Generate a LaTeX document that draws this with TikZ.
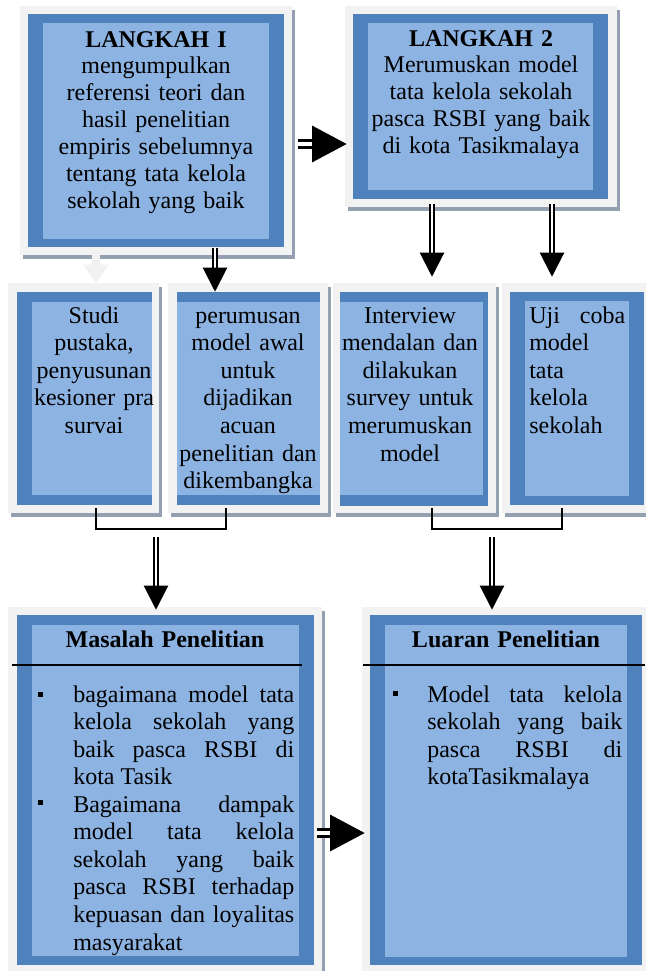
\documentclass[tikz,border=0pt]{standalone}
\usepackage{fontspec}
\setmainfont{Liberation Serif}
\usetikzlibrary{arrows.meta, calc, fit, shadows}
\definecolor{framegray}{RGB}{242,242,242}
\definecolor{shadowblue}{RGB}{148,160,178}
\definecolor{outerblue}{RGB}{79,129,189}
\definecolor{innerblue}{RGB}{141,179,226}

\tikzset{
  blokframe/.style={fill=framegray, inner sep=0pt,
    general shadow={fill=shadowblue, shadow xshift=2.25pt, shadow yshift=-3pt}},
  txt/.style={inner sep=0pt, text width=#1, align=center, anchor=base,
    font=\fontsize{18}{20.7}\selectfont},
  txttop/.style={txt=#1, font=\fontsize{18}{20.2}\selectfont},
  item/.style={txt=#1, align=justify, anchor=base west},
  bul/.style={fill=black, inner sep=0pt, minimum size=3.75pt},
  vdbl/.style={double, double distance=1.7pt, line width=1.6pt,
    -{Triangle[length=18pt, width=18pt]}},
  hdbl/.style={double, double distance=2.6pt, line width=2.4pt,
    -{Triangle[length=26pt, width=27pt]}},
  grayarr/.style={draw=framegray, line width=5.5pt,
    -{Triangle[length=13.5pt, width=19pt]}},
  brk/.style={line width=1.1pt},
  rulel/.style={line width=1.1pt}
}

\begin{document}
\begin{tikzpicture}[x=0.75pt, y=-0.75pt]
\useasboundingbox (0,0) rectangle (646,971);

%langkah 1
\node[blokframe, fit={(20,6) (292,255)}] (L1) {};
\fill[outerblue] (28,14) rectangle (284,247);
\fill[innerblue] (43,23) rectangle (269,239);
\node[txttop=170pt] (t1) at (156,47) {\textbf{LANGKAH I}\\ mengumpulkan\\ referensi teori dan\\ hasil penelitian\\ empiris sebelumnya\\ tentang tata kelola\\ sekolah yang baik};

%langkah 2
\node[blokframe, fit={(345,6) (617,207)}] (L2) {};
\fill[outerblue] (353,14) rectangle (608,199);
\fill[innerblue] (368,23) rectangle (593,190);
\node[txttop=170pt] (t2) at (481,46) {\textbf{LANGKAH 2}\\ Merumuskan model\\ tata kelola sekolah\\ pasca RSBI yang baik\\ di kota Tasikmalaya};

%row of four
\node[blokframe, fit={(8,283) (159,513)}] (S) {};
\fill[outerblue] (17,292) rectangle (152,505);
\fill[innerblue] (32,302) rectangle (152,495);
\node[txt=120pt] (ts) at (94,323) {Studi\\ pustaka,\\ penyusunan\\ kesioner pra\\ survai};

\node[blokframe, fit={(168,283) (328,513)}] (P) {};
\fill[outerblue] (177,292) rectangle (320,505);
\fill[innerblue] (177,302) rectangle (320,495);
\node[txt=120pt] (tp) at (248,323) {perumusan\\ model awal\\ untuk\\ dijadikan\\ acuan\\ penelitian dan\\ dikembangka};

\node[blokframe, fit={(333,283) (496,513)}] (I) {};
\fill[outerblue] (340,292) rectangle (488,506);
\fill[innerblue] (340,302) rectangle (483,495);
\node[txt=120pt] (ti) at (410,323) {Interview\\ mendalan dan\\ dilakukan\\ survey untuk\\ merumuskan\\ model};

\node[blokframe, fit={(502,283) (648,513)}] (U) {};
\fill[outerblue] (510,292) rectangle (644,505);
\fill[innerblue] (525,301) rectangle (629,496);
\node[item=72pt] (tu) at (529,323) {Uji coba\linebreak model\\ tata\\ kelola\\ sekolah};

%masalah
\node[blokframe, fit={(8,607) (322,975)}] (M) {};
\fill[outerblue] (17,615) rectangle (314,965);
\fill[innerblue] (32,625) rectangle (299,956);
\node[txt=200pt] (tm) at (165,647) {\textbf{Masalah Penelitian}};
\draw[rulel] (12,665) -- (302,665);
\node[bul] (m1) at (40.5,694.5) {};
\node[item=165.75pt] (tm1) at (73,702) {bagaimana model tata\linebreak kelola sekolah yang\linebreak baik pasca RSBI di\linebreak kota Tasik};
\node[bul] (m2) at (40.5,802.5) {};
\node[item=165.75pt] (tm2) at (73,812) {Bagaimana dampak\linebreak model tata kelola\linebreak sekolah yang baik\linebreak pasca RSBI terhadap\linebreak kepuasan dan loyalitas\linebreak masyarakat};

%luaran
\node[blokframe, fit={(362,607) (650,975)}] (R) {};
\fill[outerblue] (370,615) rectangle (642,965);
\fill[innerblue] (385,625) rectangle (627,957);
\node[txt=200pt] (tr) at (506,647) {\textbf{Luaran Penelitian}};
\draw[rulel] (363,665) -- (645,665);
\node[bul] (r1) at (395,693) {};
\node[item=146.25pt] (tr1) at (427,702) {Model tata kelola\linebreak sekolah yang baik\linebreak pasca RSBI di\linebreak kotaTasikmalaya};

%arrows
\draw[hdbl] ($(L1.east |- 0,144)+(6,0)$) -- ($(L2.west |- 0,144)+(2,0)$);
\draw[grayarr] (L1.south -| 96,0) -- (S.north -| 96,0);
\draw[vdbl] ($(L1.south -| 215,0)+(0,-7)$) -- ($(P.north -| 215,0)+(0,9)$);
\draw[vdbl] ($(L2.south -| 432,0)+(0,-3)$) -- ($(I.north -| 432,0)+(0,-6)$);
\draw[vdbl] ($(L2.south -| 552,0)+(0,-3)$) -- ($(U.north -| 552,0)+(0,-6)$);

%brackets
\draw[brk] ($(S.south -| 96,0)+(0,-5)$) -- (96,529) -| ($(P.south -| 226,0)+(0,-5)$);
\coordinate (b1) at (156,537);
\draw[vdbl] (b1) -- ($(M.north -| b1)+(0,3)$);
\draw[brk] ($(I.south -| 432,0)+(0,-5)$) -- (432,529) -| ($(U.south -| 562,0)+(0,-5)$);
\coordinate (b2) at (492,537);
\draw[vdbl] (b2) -- ($(R.north -| b2)+(0,3)$);
\draw[hdbl] ($(M.east |- 0,833)+(-5,0)$) -- ($(R.west |- 0,833)+(3,0)$);
\end{tikzpicture}
\end{document}
